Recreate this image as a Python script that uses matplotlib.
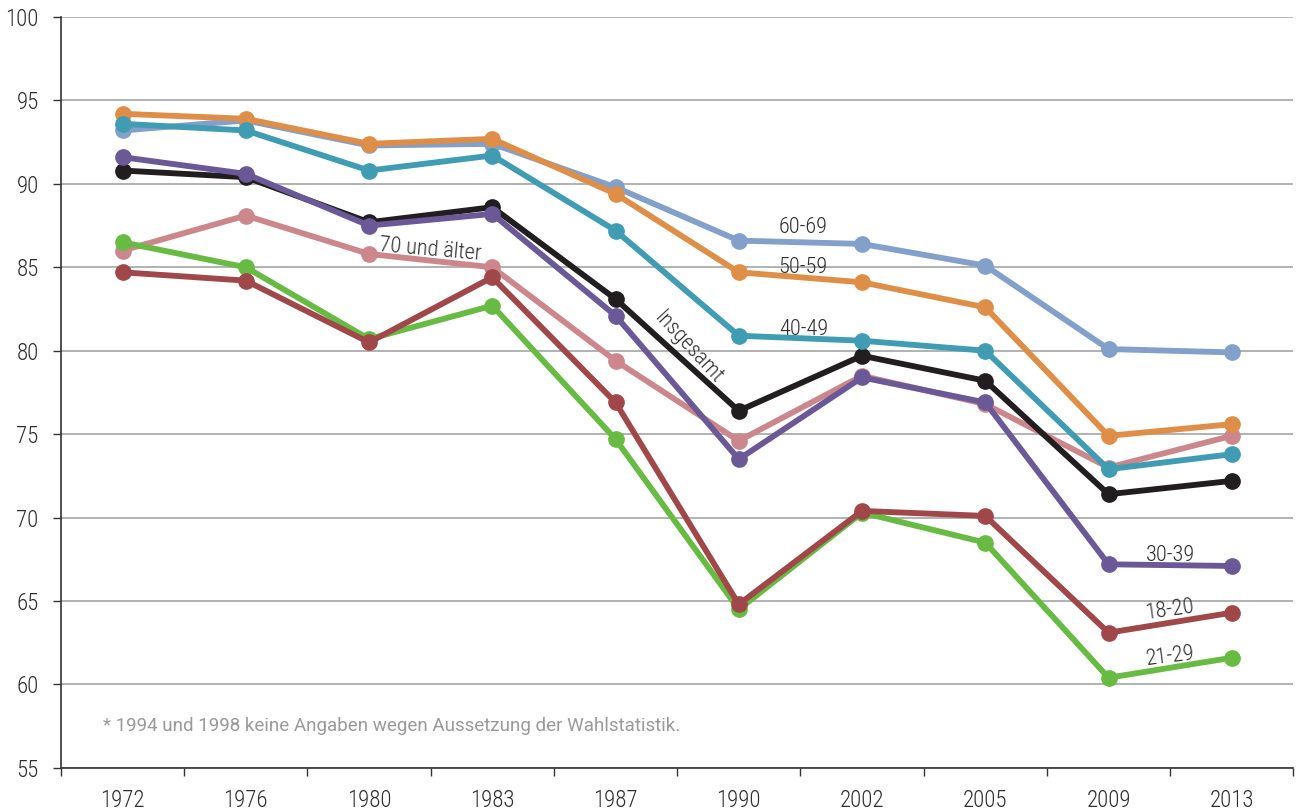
import matplotlib
matplotlib.use("Agg")
import matplotlib.pyplot as plt

# ---- data ----
years = ["1972", "1976", "1980", "1983", "1987", "1990", "2002", "2005", "2009", "2013"]

age_60_69 = [93.2, 93.8, 92.3, 92.4, 89.8, 86.6, 86.4, 85.1, 80.1, 79.9]
age_50_59 = [94.2, 93.9, 92.4, 92.7, 89.4, 84.7, 84.1, 82.6, 74.9, 75.6]
age_40_49 = [93.6, 93.2, 90.8, 91.7, 87.2, 80.9, 80.6, 80.0, 72.9, 73.8]
insgesamt = [90.8, 90.4, 87.7, 88.6, 83.1, 76.4, 79.7, 78.2, 71.4, 72.2]
age_30_39 = [91.6, 90.6, 87.5, 88.2, 82.1, 73.5, 78.4, 76.9, 67.2, 67.1]
age_70 = [86.0, 88.1, 85.8, 85.0, 79.4, 74.6, 78.5, 76.8, 73.0, 74.9]
age_21_29 = [86.5, 85.0, 80.7, 82.7, 74.7, 64.5, 70.3, 68.5, 60.4, 61.6]
age_18_20 = [84.7, 84.2, 80.5, 84.4, 76.9, 64.8, 70.4, 70.1, 63.1, 64.3]

# drawing order: bottom to top
series = [
    (age_70,    "#cc878d"),
    (age_21_29, "#67bb43"),
    (age_18_20, "#a0474a"),
    (insgesamt, "#221e1f"),
    (age_30_39, "#6b5897"),
    (age_60_69, "#82a0ca"),
    (age_50_59, "#df8e48"),
    (age_40_49, "#3f9cb3"),
]

FONT = ["Roboto Condensed", "Barlow Semi Condensed", "DejaVu Sans"]
plt.rcParams["font.family"] = FONT
plt.rcParams["font.weight"] = "light"
TXT = "#2e2e2e"

fig = plt.figure(figsize=(12.96, 8.1), dpi=100)
ax = fig.add_axes([0.047, 0.052, 0.951, 0.927])

x = list(range(len(years)))
for vals, col in series:
    ax.plot(x, vals, color=col, linewidth=4.2, marker="o", markersize=11,
            solid_capstyle="round", zorder=3)

ax.set_xlim(-0.5, len(years) - 0.5)
ax.set_ylim(55, 100)
ax.set_yticks(range(55, 101, 5))
ax.set_xticks(x)
ax.set_xticklabels(years)
ax.set_xticks([i - 0.5 for i in range(len(years) + 1)], minor=True)
ax.tick_params(axis="x", which="major", length=0, pad=15, labelsize=16.5, labelcolor=TXT)
ax.tick_params(axis="x", which="minor", length=6, width=1, color="#333333", direction="out")
ax.tick_params(axis="y", length=6, width=1, color="#333333", pad=10, labelsize=16.5, labelcolor=TXT)

ax.grid(axis="y", color="#9d9d9d", linewidth=1.1, zorder=0)
for s in ["top", "right"]:
    ax.spines[s].set_visible(False)
for s in ["left", "bottom"]:
    ax.spines[s].set_color("#333333")
    ax.spines[s].set_linewidth(1.2)

# series labels
lab = dict(fontsize=16, color=TXT, zorder=5)
ax.text(5.52, 86.75, "60-69", ha="center", va="bottom", **lab)
ax.text(5.52, 84.35, "50-59", ha="center", va="bottom", **lab)
ax.text(5.53, 80.65, "40-49", ha="center", va="bottom", **lab)
ax.text(4.59, 80.15, "Insgesamt", ha="center", va="center", rotation=-47, **lab)
ax.text(2.5, 86.05, "70 und älter", ha="center", va="center", rotation=-5, **lab)
ax.text(8.5, 67.1, "30-39", ha="center", va="bottom", **lab)
ax.text(8.5, 63.6, "18-20", ha="center", va="bottom", rotation=8, **lab)
ax.text(8.5, 60.85, "21-29", ha="center", va="bottom", rotation=7, **lab)

ax.text(-0.16, 57.5, "* 1994 und 1998 keine Angaben wegen Aussetzung der Wahlstatistik.",
        ha="left", va="center", fontsize=13.5, color="#9a9a9a",
        family=["Roboto", "DejaVu Sans"], fontweight="normal")

fig.savefig("out.png", dpi=100)
